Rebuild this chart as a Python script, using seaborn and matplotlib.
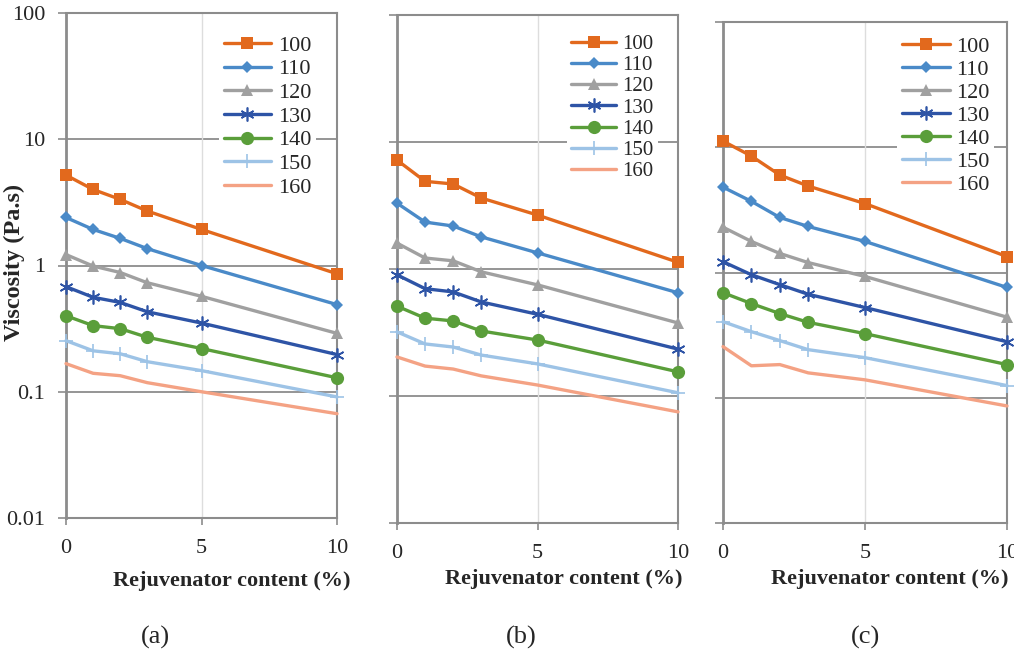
import numpy as np
import pandas as pd
import matplotlib
matplotlib.use('Agg')
import matplotlib.pyplot as plt
import seaborn as sns

# Rejuvenator content (%)
content = [0, 1, 2, 3, 5, 10]
temps = ['100', '110', '120', '130', '140', '150', '160']

# Viskosität (Pa.s)
visc_a = {
    '100': [5.2, 4.0, 3.34, 2.7, 1.93, 0.86],
    '110': [2.4, 1.93, 1.64, 1.36, 1.0, 0.49],
    '120': [1.22, 0.99, 0.88, 0.73, 0.57, 0.29],
    '130': [0.68, 0.56, 0.51, 0.43, 0.35, 0.197],
    '140': [0.40, 0.334, 0.316, 0.27, 0.22, 0.129],
    '150': [0.254, 0.211, 0.20, 0.173, 0.147, 0.091],
    '160': [0.167, 0.14, 0.134, 0.118, 0.10, 0.067],
}
visc_b = {
    '100': [7.2, 4.9, 4.67, 3.62, 2.66, 1.13],
    '110': [3.3, 2.34, 2.18, 1.79, 1.34, 0.65],
    '120': [1.6, 1.22, 1.16, 0.95, 0.75, 0.376],
    '130': [0.9, 0.70, 0.66, 0.55, 0.44, 0.234],
    '140': [0.51, 0.41, 0.39, 0.325, 0.276, 0.155],
    '150': [0.32, 0.257, 0.243, 0.21, 0.179, 0.106],
    '160': [0.203, 0.172, 0.163, 0.144, 0.122, 0.075],
}
visc_c = {
    '100': [11.2, 8.5, 6.0, 4.9, 3.55, 1.34],
    '110': [4.8, 3.7, 2.75, 2.33, 1.77, 0.76],
    '120': [2.3, 1.77, 1.42, 1.2, 0.93, 0.44],
    '130': [1.22, 0.96, 0.80, 0.67, 0.525, 0.28],
    '140': [0.69, 0.565, 0.47, 0.40, 0.325, 0.184],
    '150': [0.405, 0.337, 0.286, 0.242, 0.209, 0.125],
    '160': [0.256, 0.18, 0.184, 0.158, 0.139, 0.086],
}

colors = ['#E2691D', '#4A8AC8', '#A0A0A0', '#2E54A6', '#5A9E3A', '#9DC3E6', '#F4A284']
markers = ['s', 'D', '^', (6, 2, 0), 'o', '+', None]
msizes = [9, 6.5, 9, 10, 9.5, 10, 0]

sns.set_style('white')
plt.rcParams['font.family'] = ['Liberation Serif', 'DejaVu Serif']

fig = plt.figure(figsize=(10.14, 6.57), dpi=100)

panels = [
    # (data, left, right, top, bottom) in Pixel
    (visc_a, 66, 337, 13, 518),
    (visc_b, 397, 678, 15, 523),
    (visc_c, 723, 1007, 22, 523),
]
# (x, y, labelspacing, fontsize)
leg_pos = [(0.565, 0.965, 0.14, 16), (0.605, 0.97, 0.08, 15), (0.614, 0.98, 0.11, 16)]
xlab_pos = [(0.61, -0.105), (0.595, -0.09), (0.588, -0.092)]

grid_dark = '#8C8C8C'
axes = []
for i, (vals, x0, x1, y0, y1) in enumerate(panels):
    ax = fig.add_axes([x0 / 1014, 1 - y1 / 657, (x1 - x0) / 1014, (y1 - y0) / 657])
    axes.append(ax)
    ax.set_yscale('log')
    ax.set_ylim(0.01, 100)
    ax.set_xlim(0, 10)

    # Gitternetz
    for yv in [0.1, 1, 10]:
        ax.axhline(yv, color=grid_dark, lw=1.3, zorder=0)
    ax.axvline(5, color='#DDDDDD', lw=1.0, zorder=0)

    for j, t in enumerate(temps):
        sns.lineplot(x=content, y=vals[t], ax=ax, color=colors[j], lw=2.4,
                     marker=markers[j], markersize=msizes[j],
                     markeredgewidth=1.2 if markers[j] in ['+', (6, 2, 0)] else 0,
                     markeredgecolor=colors[j], label=t, clip_on=False, zorder=3)

    for s in ['left', 'right', 'top', 'bottom']:
        ax.spines[s].set_visible(True)
        ax.spines[s].set_color(grid_dark)
        ax.spines[s].set_linewidth(1.5)
    ax.spines['left'].set_linewidth(2)

    ax.set_xticks([0, 5, 10])
    ax.set_xticklabels(['0', '5', '10'], fontsize=16)
    ax.tick_params(axis='x', bottom=True, length=5, width=1.2, color=grid_dark, pad=10)
    ax.set_yticks([0.01, 0.1, 1, 10, 100])
    ax.yaxis.set_minor_locator(matplotlib.ticker.NullLocator())
    ax.tick_params(axis='y', left=True, length=6, width=1.2, color=grid_dark, pad=9)
    if i == 0:
        ax.set_yticklabels(['0.01', '0.1', '1', '10', '100'], fontsize=16)
    else:
        ax.set_yticklabels([])
    ax.set_ylabel('')
    ax.set_xlabel('Rejuvenator content (%)', fontsize=16, fontweight='bold')
    ax.xaxis.set_label_coords(*xlab_pos[i])

    lx, ly, lsp, lfs = leg_pos[i]
    leg = ax.legend(loc='upper left', bbox_to_anchor=(lx, ly), fontsize=lfs,
                    frameon=True, fancybox=False, framealpha=1, edgecolor='white',
                    handlelength=2.15, handletextpad=0.3, labelspacing=lsp,
                    borderpad=0.2, borderaxespad=0)
    leg.get_frame().set_linewidth(0)

fig.text(14 / 1014, 1 - 262 / 657, 'Viscosity (Pa.s)', rotation=90, fontsize=17.5,
         fontweight='bold', ha='center', va='center')
for lab, xc in zip(['(a)', '(b)', '(c)'], [155, 521, 866]):
    fig.text(xc / 1014, 1 - 637 / 657, lab, fontsize=19, ha='center', va='center')

plt.savefig('out.png', dpi=100)
